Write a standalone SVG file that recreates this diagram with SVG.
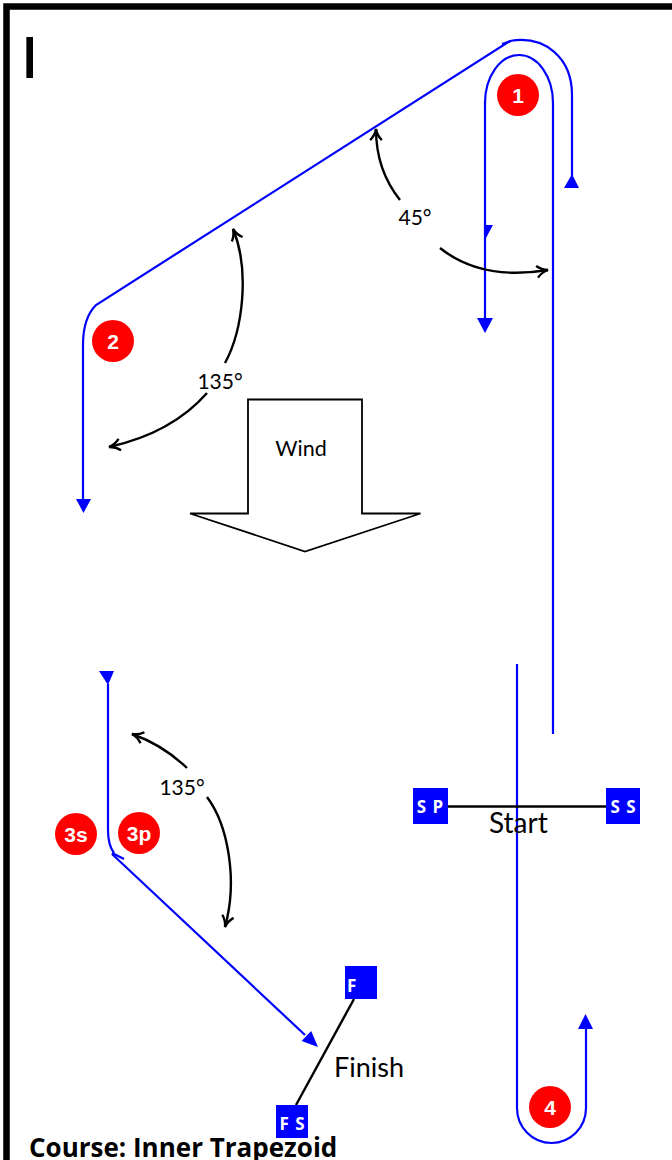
<svg xmlns="http://www.w3.org/2000/svg" width="672" height="1160" viewBox="0 0 672 1160">
  <style>
    .blue { fill: none; stroke: #0000ff; stroke-width: 2.2; }
    .bluefill { fill: #0000ff; stroke: none; }
    .blk { fill: none; stroke: #000; stroke-width: 2.4; }
    .mark { fill: #ff0000; }
    .marktxt { font-family: "Liberation Sans", Arial, sans-serif; font-weight: bold; font-size: 21px; fill: #fff; text-anchor: middle; }
    .lbl { font-family: Lato, "Open Sans", sans-serif; fill: #000; }
    .box { fill: #0000ff; }
    .boxtxt { font-family: "Open Sans", sans-serif; font-weight: bold; font-size: 17px; fill: #fff; }
  </style>
  <defs>
    <marker id="open" viewBox="0 0 12 12" refX="10.5" refY="6" markerWidth="14" markerHeight="14" markerUnits="userSpaceOnUse" orient="auto">
      <path d="M1,1 Q5,5 10.5,6 Q5,7 1,11" fill="none" stroke="#000" stroke-width="2"/>
    </marker>
  </defs>

  <rect id="frame" x="6.5" y="6.5" width="720" height="1220" fill="none" stroke="#000" stroke-width="6.5"/>
  <text id="title-letter" x="21" y="78" font-family="Open Sans, sans-serif" font-weight="600" font-size="57" fill="#000">I</text>

  <g id="connectors">
    <path class="blue" d="M83,499 V345 Q83,318 96,305 L510,41"/>
    <path class="blue" d="M502,44 L511,41"/>
    <path class="blue" d="M510,41 C545,35 572,58 572,95 V176"/>
    <polygon class="bluefill" points="564,188 579,188 572,174"/>
    <polygon class="bluefill" points="76,499 91,499 83.5,513"/>
    <path class="blue" d="M553,734 V103 A34,48 0 0 0 485,103 V320"/>
    <polygon class="bluefill" points="477,318 493,318 485,333"/>
    <polygon class="bluefill" points="484,225 493,225 486,238"/>
    <path class="blue" d="M517,664 V1108 A34.5,35 0 0 0 586,1108 V1029"/>
    <polygon class="bluefill" points="578,1029 593,1029 585.5,1014"/>
    <path class="blue" d="M108,684 V830 Q108,845 114,853"/>
    <polygon class="bluefill" points="99,671 114,671 108,685"/>
    <path class="blue" d="M112,853 L124,859"/>
    <path class="blue" d="M112,854 L305,1035"/>
    <polygon class="bluefill" points="301.6,1041.1 311.2,1030.9 318,1047"/>
    <path class="blk" stroke-width="2" d="M448,806.5 H606"/>
    <path class="blk" stroke-width="2" d="M354,999 L296,1105"/>
    <path class="blk" marker-end="url(#open)" d="M400,200 Q376,170 376,129"/>
    <path class="blk" marker-end="url(#open)" d="M440,248 C465,268 500,278 548,270"/>
    <path class="blk" marker-end="url(#open)" d="M225,363 C243,330 250,270 233,229"/>
    <path class="blk" marker-end="url(#open)" d="M207,393 Q172,433 109,447"/>
    <path class="blk" marker-end="url(#open)" d="M187,768 Q163,745 132,734"/>
    <path class="blk" marker-end="url(#open)" d="M207,797 C228,825 238,880 225,927"/>
  </g>

  <g id="mark-1"><circle class="mark" cx="518" cy="95" r="21"/><text class="marktxt" x="518" y="102.5">1</text></g>
  <g id="mark-2"><circle class="mark" cx="113" cy="341" r="21"/><text class="marktxt" x="113" y="348.5">2</text></g>
  <g id="mark-3s"><circle class="mark" cx="76" cy="834" r="21"/><text class="marktxt" x="76" y="841.5">3s</text></g>
  <g id="mark-3p"><circle class="mark" cx="139" cy="833" r="21"/><text class="marktxt" x="139" y="840.5">3p</text></g>
  <g id="mark-4"><circle class="mark" cx="550" cy="1107" r="21"/><text class="marktxt" x="550" y="1114.5">4</text></g>

  <g id="start-pin-SP"><rect class="box" x="413" y="788" width="35" height="36"/><text class="boxtxt" x="430.5" y="812.5" text-anchor="middle" letter-spacing="1">S P</text></g>
  <g id="start-pin-SS"><rect class="box" x="606" y="788" width="34" height="36"/><text class="boxtxt" x="623.5" y="812.5" text-anchor="middle" letter-spacing="1">S S</text></g>
  <g id="finish-pin-F"><rect class="box" x="345" y="966" width="32" height="33"/><text class="boxtxt" x="347" y="991.5">F</text></g>
  <g id="finish-pin-FS"><rect class="box" x="276" y="1105" width="32" height="33"/><text class="boxtxt" x="292.5" y="1130" text-anchor="middle" letter-spacing="1">F S</text></g>

  <g id="wind">
    <polygon points="248,399.5 362,399.5 362,513.5 420.5,513.5 305,551.5 190,513.5 248,513.5" fill="#fff" stroke="#000" stroke-width="1.8"/>
    <text class="lbl" x="301" y="456" font-size="21.5" text-anchor="middle">Wind</text>
  </g>

  <g id="labels">
    <text class="lbl" x="415" y="225" font-size="21" text-anchor="middle">45°</text>
    <text class="lbl" x="220" y="389" font-size="21" text-anchor="middle">135°</text>
    <text class="lbl" x="182" y="795" font-size="21" text-anchor="middle">135°</text>
    <text class="lbl" x="489" y="833" font-size="28">Start</text>
    <text class="lbl" x="334" y="1077" font-size="27">Finish</text>
    <text x="29" y="1157" font-family="Open Sans, sans-serif" font-size="26" font-weight="bold" fill="#000">Course: Inner Trapezoid</text>
  </g>
</svg>
